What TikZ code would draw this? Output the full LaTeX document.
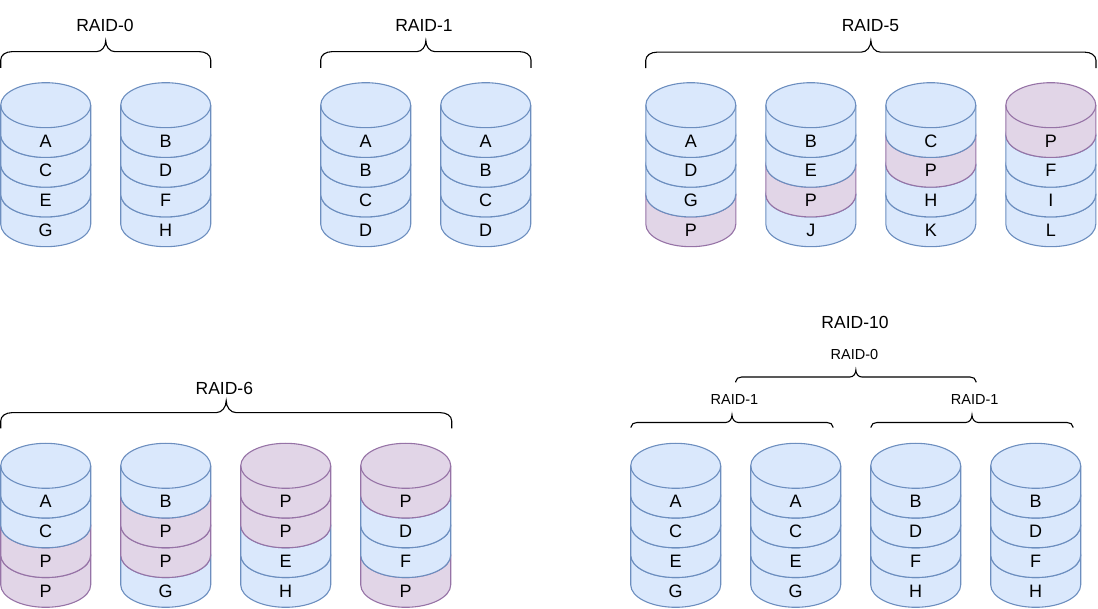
\documentclass[tikz,border=0pt]{standalone}
\usepackage{fontspec}
\setmainfont{Liberation Sans}
\usepackage{tikz}

\definecolor{datafill}{HTML}{DAE8FC}
\definecolor{dataline}{HTML}{6C8EBF}
\definecolor{parityfill}{HTML}{E1D5E7}
\definecolor{parityline}{HTML}{9673A6}

% slices are listed from the bottom up, so that each upper one covers the rim below it
\newcommand{\raiddisk}[4]{%
  \foreach \lab/\st [count=\n] in {#4} {
    \pgfmathsetmacro{\yt}{#3-(4-\n)*29.75}
    \pgfmathsetmacro{\yb}{\yt-29.75}
    \filldraw[\st] (#2-45,\yt) -- (#2-45,\yb) arc[start angle=180,end angle=360,x radius=45,y radius=22.5] -- (#2+45,\yt) arc[start angle=0,end angle=180,x radius=45,y radius=22.5] -- cycle;
    \draw[\st,fill=none] (#2-45,\yt) arc[start angle=180,end angle=360,x radius=45,y radius=22.5];
    \node[slice] (#1-\n) at (#2,\yt-42) {\lab};
  }
}

\newcommand{\raidbrace}[6]{%
  \pgfmathsetmacro{\bracex}{(#1+#2)/2}
  \pgfmathsetmacro{\bracey}{#3-#4}
  \draw[bracket] (#1,\bracey-#5) -- (#1,\bracey-0.75*#6) to[out=90,in=180] (#1+#6,\bracey) -- (\bracex-0.85*#4,\bracey) to[out=0,in=-90] (\bracex,#3) to[out=-90,in=180] (\bracex+0.85*#4,\bracey) -- (#2-#6,\bracey) to[out=0,in=90] (#2,\bracey-0.75*#6) -- (#2,\bracey-#5);
}

\begin{document}
\begin{tikzpicture}[x=1pt,y=1pt,
  data/.style={fill=datafill,draw=dataline,line width=1.1pt},
  parity/.style={fill=parityfill,draw=parityline,line width=1.1pt},
  slice/.style={font=\fontsize{18}{18}\selectfont,inner sep=0pt,anchor=base},
  title/.style={font=\fontsize{17.5}{18}\selectfont,inner sep=0pt,anchor=base},
  subtitle/.style={font=\fontsize{14.5}{15}\selectfont,inner sep=0pt,anchor=base},
  bracket/.style={draw=black,line width=1.1pt}]
  \useasboundingbox (0,0) rectangle (1098,-609);

  \node[title] (raid0) at (105,-31.5) {RAID-0};
  \raidbrace{0.7}{210.7}{-40.7}{11}{16.3}{11}
  \raiddisk{r0a}{45.7}{-105.2}{G/data,E/data,C/data,A/data}
  \raiddisk{r0b}{165.7}{-105.2}{H/data,F/data,D/data,B/data}

  \node[title] (raid1) at (424,-31.5) {RAID-1};
  \raidbrace{320.7}{531}{-40.7}{11}{16.3}{11}
  \raiddisk{r1a}{365.7}{-105.2}{D/data,C/data,B/data,A/data}
  \raiddisk{r1b}{485.7}{-105.2}{D/data,C/data,B/data,A/data}

  \node[title] (raid5) at (870.5,-31.5) {RAID-5};
  \raidbrace{645.7}{1096}{-40.7}{11.5}{16}{11}
  \raiddisk{r5a}{690.8}{-105.2}{P/parity,G/data,D/data,A/data}
  \raiddisk{r5b}{810.8}{-105.2}{J/data,P/parity,E/data,B/data}
  \raiddisk{r5c}{930.8}{-105.2}{K/data,H/data,P/parity,C/data}
  \raiddisk{r5d}{1050.8}{-105.2}{L/data,I/data,F/data,P/parity}

  \node[title] (raid6) at (224.3,-395) {RAID-6};
  \raidbrace{0.7}{451.7}{-400.7}{12}{15.6}{11}
  \raiddisk{r6a}{45.7}{-465.8}{P/parity,P/parity,C/data,A/data}
  \raiddisk{r6b}{165.7}{-465.8}{G/data,P/parity,P/parity,B/data}
  \raiddisk{r6c}{285.7}{-465.8}{H/data,E/data,P/parity,P/parity}
  \raiddisk{r6d}{405.7}{-465.8}{P/parity,F/data,D/data,P/parity}

  \node[title] (raid10) at (855,-328.3) {RAID-10};
  \node[subtitle] (raid10s) at (854.5,-360) {RAID-0};
  \raidbrace{735.7}{976}{-370}{7}{5.5}{6}
  \node[subtitle] (raid10l) at (734.5,-405) {RAID-1};
  \raidbrace{631}{833}{-415}{7.5}{5.2}{6}
  \node[subtitle] (raid10r) at (974.7,-405) {RAID-1};
  \raidbrace{871}{1073}{-415}{7.5}{5.2}{6}
  \raiddisk{r10a}{675.7}{-465.8}{G/data,E/data,C/data,A/data}
  \raiddisk{r10b}{795.7}{-465.8}{G/data,E/data,C/data,A/data}
  \raiddisk{r10c}{915.7}{-465.8}{H/data,F/data,D/data,B/data}
  \raiddisk{r10d}{1035.7}{-465.8}{H/data,F/data,D/data,B/data}
\end{tikzpicture}
\end{document}
